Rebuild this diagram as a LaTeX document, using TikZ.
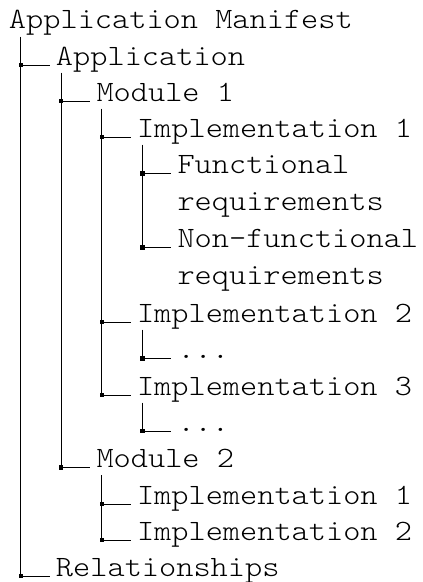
\documentclass[tikz,border=0pt]{standalone}
\usepackage{fontspec}
\newfontfamily\treefont{lmmonolt10-regular.otf}[FakeStretch=1.11]
\begin{document}
\begin{tikzpicture}[
  lbl/.style={anchor=base west, inner sep=0pt, outer sep=0pt, font=\treefont\fontsize{29.5pt}{34pt}\selectfont, text=black},
  jn/.style={fill=black, inner sep=0pt, minimum size=4.2pt, draw=none, shape=rectangle},
  ln/.style={draw=black, line width=0.9pt},
]
\useasboundingbox (0,0) rectangle (423pt,-582pt);
% texts
\node[lbl] (root) at (9pt,-28pt) {Application Manifest};
\node[lbl] (app)  at (56pt,-65pt) {Application};
\node[lbl] (m1)   at (96.5pt,-101pt) {Module 1};
\node[lbl] (i11)  at (137pt,-137pt) {Implementation 1};
\node[lbl] (fr)   at (177.5pt,-173.5pt) {Functional};
\node[lbl] (fr2)  at (177.5pt,-210.5pt) {requirements};
\node[lbl] (nfr)  at (177.5pt,-247.5pt) {Non-functional};
\node[lbl] (nfr2) at (177.5pt,-284.5pt) {requirements};
\node[lbl] (i12)  at (137pt,-322pt) {Implementation 2};
\node[lbl] (d1)   at (177.5pt,-358.5pt) {...};
\node[lbl] (i13)  at (137pt,-395pt) {Implementation 3};
\node[lbl] (d2)   at (177.5pt,-431pt) {...};
\node[lbl] (m2)   at (96.5pt,-467.5pt) {Module 2};
\node[lbl] (i21)  at (137pt,-504pt) {Implementation 1};
\node[lbl] (i22)  at (137pt,-540pt) {Implementation 2};
\node[lbl] (rel)  at (56pt,-576pt) {Relationships};
% junctions
\node[jn] (japp) at (20.6pt,-65pt) {};
\node[jn] (jrel) at (20.6pt,-576pt) {};
\node[jn] (jm1)  at (61.2pt,-101pt) {};
\node[jn] (jm2)  at (61.2pt,-467.5pt) {};
\node[jn] (ji11) at (101.8pt,-137pt) {};
\node[jn] (ji12) at (101.8pt,-322pt) {};
\node[jn] (ji13) at (101.8pt,-395pt) {};
\node[jn] (ji21) at (101.8pt,-504pt) {};
\node[jn] (ji22) at (101.8pt,-540pt) {};
\node[jn] (jfr)  at (142.4pt,-173.5pt) {};
\node[jn] (jnfr) at (142.4pt,-247.5pt) {};
\node[jn] (jd1)  at (142.4pt,-358.5pt) {};
\node[jn] (jd2)  at (142.4pt,-431pt) {};
% vertical lines
\draw[ln] ([shift={(11.6pt,-8.7pt)}]root.base west) -- (jrel.center);
\draw[ln] ([shift={(5.2pt,-7.5pt)}]app.base west) -- (jm2.center);
\draw[ln] ([shift={(5.3pt,-7.5pt)}]m1.base west) -- (ji13.center);
\draw[ln] ([shift={(5.4pt,-7.5pt)}]i11.base west) -- (jnfr.center);
\draw[ln] ([shift={(5.4pt,-7.5pt)}]i12.base west) -- (jd1.center);
\draw[ln] ([shift={(5.4pt,-7.5pt)}]i13.base west) -- (jd2.center);
\draw[ln] ([shift={(5.3pt,-7.5pt)}]m2.base west) -- (ji22.center);
% branches
\foreach \j/\t in {japp/app, jrel/rel, jm1/m1, jm2/m2, ji11/i11, ji12/i12, ji13/i13, ji21/i21, ji22/i22, jfr/fr, jnfr/nfr, jd1/d1, jd2/d2}
  \draw[ln] (\j.center) -- ([xshift=-6.5pt]\t.base west);
% squares on top
\foreach \j in {japp, jrel, jm1, jm2, ji11, ji12, ji13, ji21, ji22, jfr, jnfr, jd1, jd2}
  \fill[black] ([shift={(-2.1pt,-2.1pt)}]\j.center) rectangle ([shift={(2.1pt,2.1pt)}]\j.center);
\end{tikzpicture}
\end{document}
